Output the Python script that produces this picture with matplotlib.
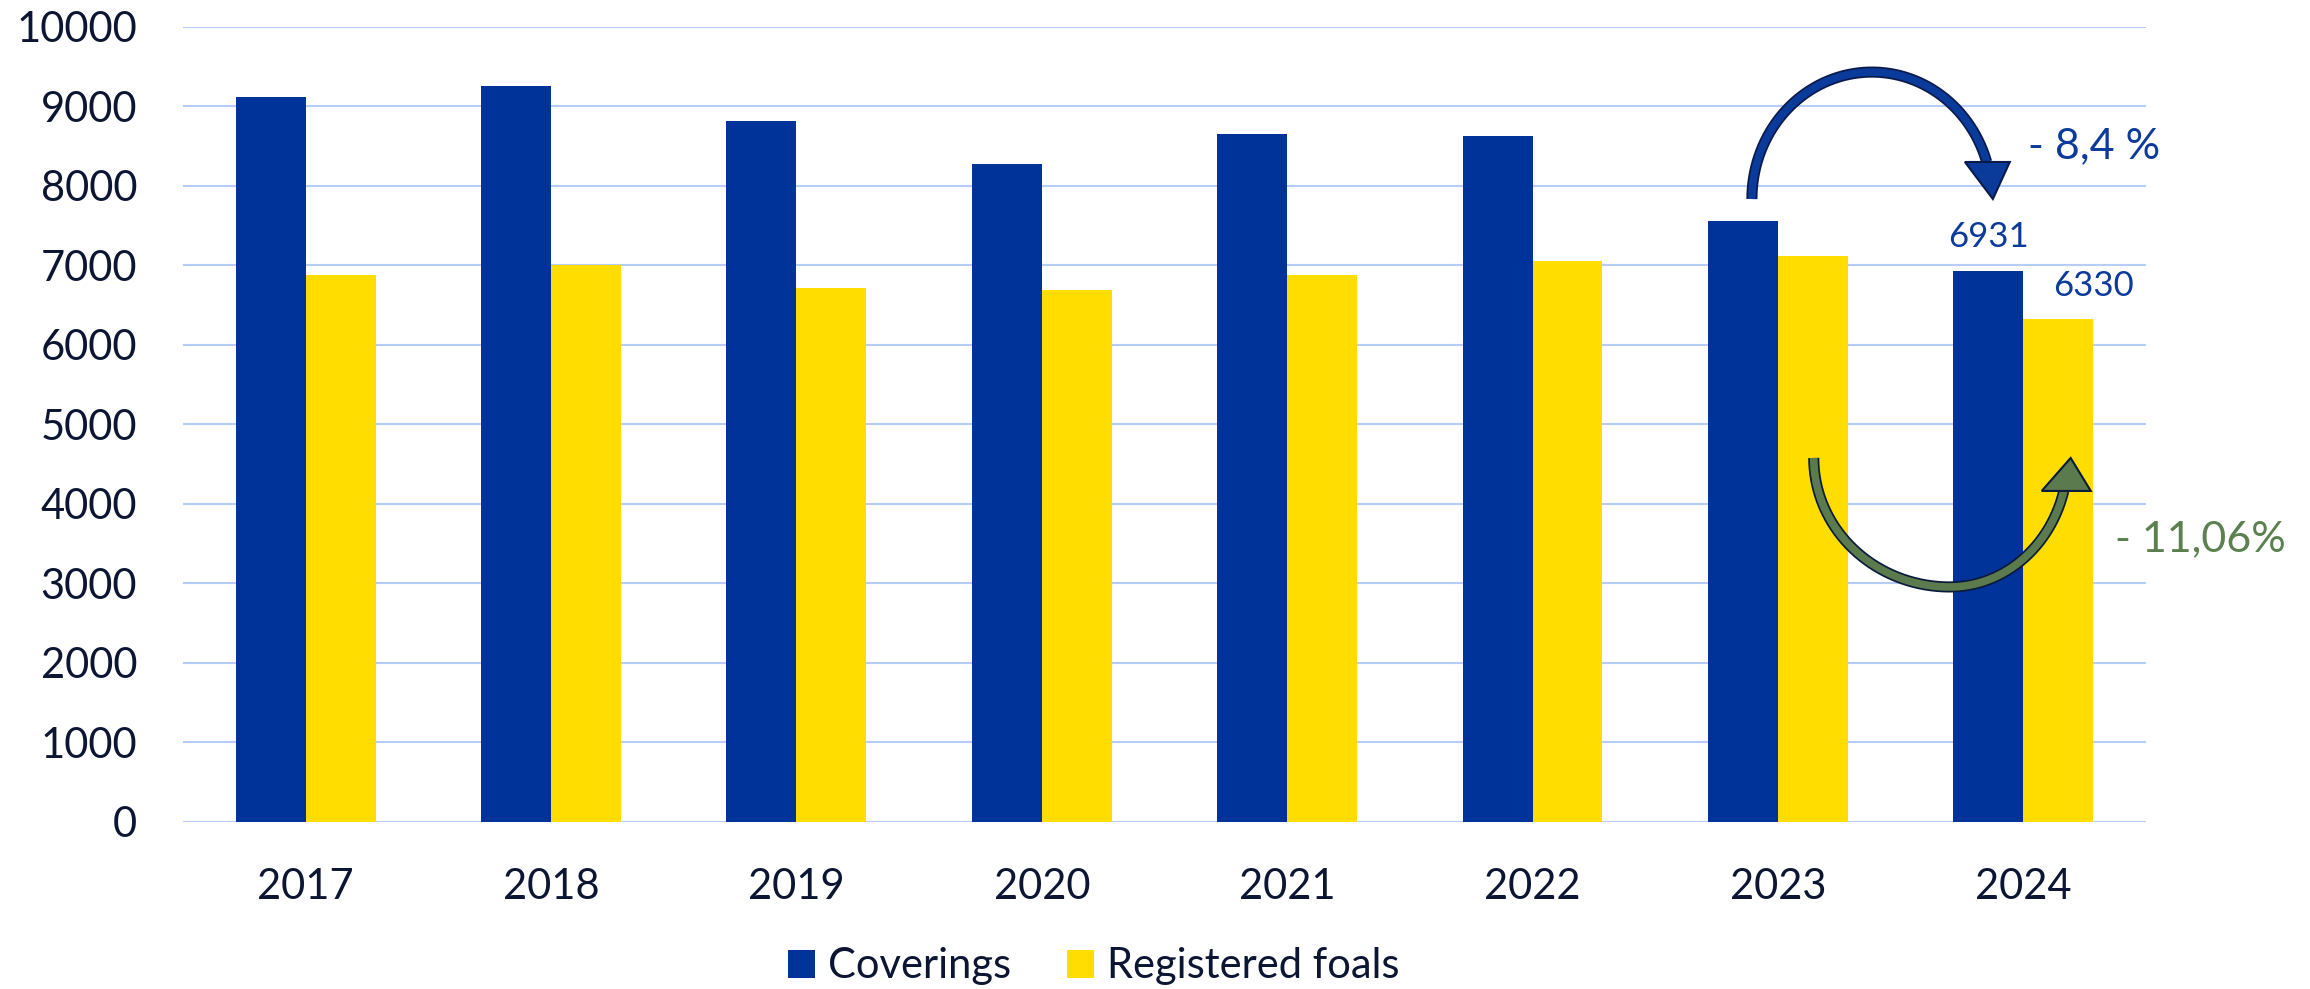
import numpy as np
import matplotlib
matplotlib.use('Agg')
import matplotlib.pyplot as plt
import matplotlib.patheffects as pe
from matplotlib.patches import Polygon

years = ['2017', '2018', '2019', '2020', '2021', '2022', '2023', '2024']
coverings = [9115, 9260, 8820, 8280, 8660, 8630, 7565, 6931]
foals = [6880, 7005, 6720, 6690, 6880, 7060, 7118, 6330]

BLUE = '#003399'
YELLOW = '#FFDD00'
GRID = '#b8cdf5'
TXT = '#0c1633'
LBL_BLUE = '#0d3b9b'
GREEN_TXT = '#5c8050'

plt.rcParams['font.family'] = ['Lato', 'DejaVu Sans']

fig = plt.figure(figsize=(23.1, 9.89), dpi=100)
ax = fig.add_axes([0.0792, 0.1689, 0.8498, 0.8038])

x = np.arange(len(years))
w = 0.285
ax.bar(x - w / 2, coverings, w, color=BLUE, label='Coverings', zorder=2)
ax.bar(x + w / 2, foals, w, color=YELLOW, label='Registered foals', zorder=2)

ax.set_xlim(-0.5, len(years) - 0.5)
ax.set_ylim(0, 10000)
ax.set_yticks(range(0, 10001, 1000))
ax.set_xticks(x)
ax.set_xticklabels(years)
ax.yaxis.grid(True, color=GRID, linewidth=1.5, zorder=0)
ax.set_axisbelow(True)
for s in ax.spines.values():
    s.set_visible(False)
ax.tick_params(axis='both', length=0, labelsize=30, colors=TXT, pad=33)

# value labels for the last year
ax.text(x[-1] - w / 2, coverings[-1] + 300, str(coverings[-1]), ha='center',
        va='baseline', fontsize=25, color=LBL_BLUE)
ax.text(x[-1] + w, foals[-1] + 286, str(foals[-1]), ha='center',
        va='baseline', fontsize=25, color=LBL_BLUE)


# curved arrows
def curved_arrow(cx, cy, rx_l, rx_r, ry, t0, t1, head, fill, edge):
    t = np.linspace(t0, t1, 200)
    rx = np.where(np.cos(t) < 0, rx_l, rx_r)
    xs = cx + rx * np.cos(t)
    ys = cy + ry * np.sin(t)
    ax.plot(xs, ys, color=fill, linewidth=5.5, solid_capstyle='butt',
            clip_on=False, zorder=5,
            path_effects=[pe.Stroke(linewidth=8, foreground=edge,
                                    capstyle='butt'), pe.Normal()])
    ax.add_patch(Polygon(head, closed=True, facecolor=fill, edgecolor=edge,
                         linewidth=1.5, clip_on=False, zorder=6))


curved_arrow(6.383, 7836, 0.489, 0.489, 1597, np.pi, 0.296,
             [(6.876, 7836), (6.762, 8302), (6.945, 8302)],
             '#0a3a9a', '#0a1a4a')
curved_arrow(6.700, 4579, 0.554, 0.481, 1623, np.pi, 2 * np.pi - 0.2586,
             [(7.193, 4579), (7.075, 4164), (7.275, 4164)],
             '#5b7b4e', '#0a1a3a')

ax.text(7.018, 8352, '- 8,4 %', ha='left', va='baseline', fontsize=31,
        color=LBL_BLUE, clip_on=False)
ax.text(7.372, 3409, '- 11,06%', ha='left', va='baseline', fontsize=31,
        color=GREEN_TXT, clip_on=False)

leg = fig.legend(loc='center', bbox_to_anchor=(0.4736, 0.023), ncol=2,
                 frameon=False, fontsize=30, handlelength=0.65,
                 handleheight=0.65, handletextpad=0.31, columnspacing=1.34)
for t in leg.get_texts():
    t.set_color(TXT)

fig.savefig('out.png', dpi=100)
